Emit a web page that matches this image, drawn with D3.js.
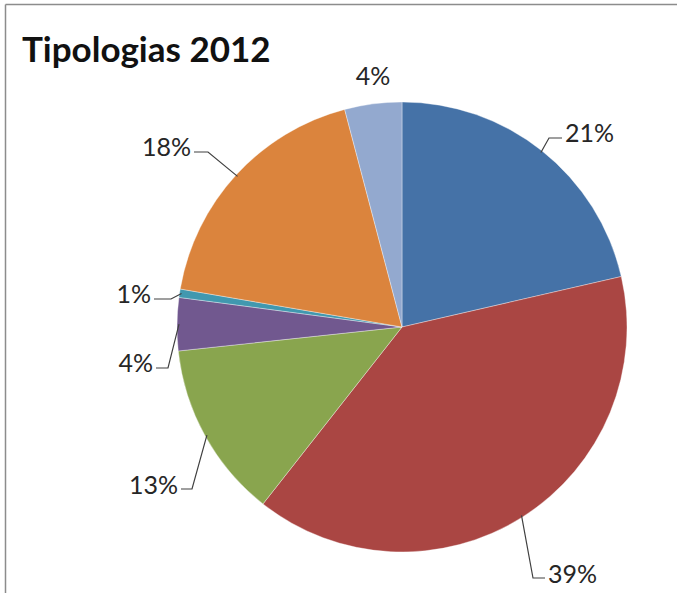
<!DOCTYPE html>
<html>
<head>
<meta charset="utf-8">
<script src="https://cdn.jsdelivr.net/npm/d3@7"></script>
<style>
  body { margin: 0; background: #fff; }
  text { font-family: Lato, "Liberation Sans", sans-serif; }
</style>
</head>
<body>
<div id="chart"></div>
<script>
// data (percent), clockwise from 12 o'clock
var categories = ["A", "B", "C", "D", "E", "F", "G"];
var values = [21.4, 39.2, 12.7, 3.8, 0.6, 18.2, 4.1];
var colors = ["#4572A7", "#AA4643", "#89A54E", "#71588F", "#4198AF", "#DB843D", "#93A9CF"];
var title = "Tipologias 2012";

var width = 677, height = 593;
var cx = 402, cy = 327, radius = 225;

// label placement (pixel offsets from pie centre): elbow of the leader, text anchor
var labelLayout = [
    { elbow: [147, -189], text: [163, -185], anchor: "start", leader: true },
    { elbow: [131, 251], text: [146, 256], anchor: "start", leader: true },
    { elbow: [-210, 162], text: [-224, 167], anchor: "end", leader: true },
    { elbow: [-234, 41], text: [-249, 45], anchor: "end", leader: true },
    { elbow: [-231, -28], text: [-251, -24], anchor: "end", leader: true },
    { elbow: [-194, -175], text: [-211, -171], anchor: "end", leader: true },
    { elbow: null, text: [-29, -242], anchor: "middle", leader: false }
];

var svg = d3.select("#chart")
    .append("svg")
    .attr("width", width)
    .attr("height", height);

// frame (only top and left edges visible in the crop)
svg.append("line")
    .attr("x1", 5.5).attr("y1", 4.5).attr("x2", width).attr("y2", 4.5)
    .attr("stroke", "#8c8c8c").attr("stroke-width", 1.5);
svg.append("line")
    .attr("x1", 5.5).attr("y1", 4.5).attr("x2", 5.5).attr("y2", height)
    .attr("stroke", "#8c8c8c").attr("stroke-width", 1.5);

svg.append("text")
    .attr("x", 22)
    .attr("y", 62)
    .style("font-weight", "bold")
    .style("font-size", "35px")
    .attr("fill", "#111")
    .text(title);

var pie = d3.pie()
    .sort(null)
    .value(function (d) { return d; });

var arcs = pie(values);

var arc = d3.arc()
    .innerRadius(0)
    .outerRadius(radius);

var g = svg.append("g")
    .attr("transform", "translate(" + cx + "," + cy + ")");

g.selectAll("path.slice")
    .data(arcs)
    .enter()
    .append("path")
    .attr("class", "slice")
    .attr("d", arc)
    .attr("fill", function (d, i) { return colors[i]; })
    .attr("stroke", "#fff")
    .attr("stroke-width", 0.6)
    .attr("stroke-opacity", 0.6);

// leader lines start on the rim at the slice's mid angle
function rimPoint(d) {
    var a = (d.startAngle + d.endAngle) / 2;
    return [Math.sin(a) * (radius - 2), -Math.cos(a) * (radius - 2)];
}

g.selectAll("path.leader")
    .data(arcs.filter(function (d, i) { return labelLayout[i].leader; }))
    .enter()
    .append("path")
    .attr("class", "leader")
    .attr("fill", "none")
    .attr("stroke", "#404040")
    .attr("stroke-width", 1.2)
    .attr("d", function (d) {
        var L = labelLayout[d.index];
        var p = rimPoint(d);
        var endX = L.text[0] + (L.anchor === "start" ? -3 : 3);
        return d3.line()([p, L.elbow, [endX, L.elbow[1]]]);
    });

g.selectAll("text.label")
    .data(arcs)
    .enter()
    .append("text")
    .attr("class", "label")
    .attr("x", function (d) { return labelLayout[d.index].text[0]; })
    .attr("y", function (d) { return labelLayout[d.index].text[1]; })
    .attr("text-anchor", function (d) { return labelLayout[d.index].anchor; })
    .style("font-size", "25px")
    .attr("fill", "#262626")
    .text(function (d) { return Math.round(d.data) + "%"; });
</script>
</body>
</html>
